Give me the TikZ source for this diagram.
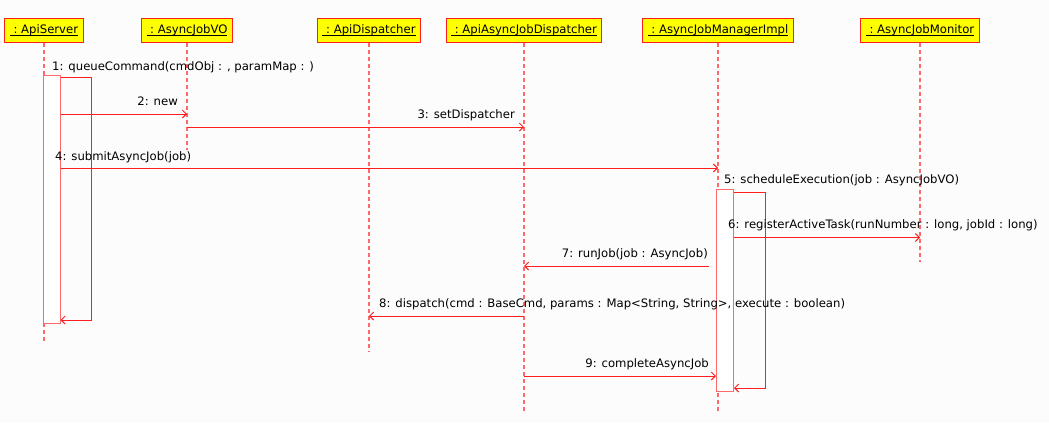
\documentclass[tikz,border=0pt]{standalone}
\usepackage{fontspec}
\setmainfont{DejaVu Sans}
\usepackage{xcolor}
\definecolor{msgred}{RGB}{255,30,30}
\definecolor{linered}{RGB}{255,105,105}
\definecolor{boxyellow}{RGB}{255,255,0}
\definecolor{bgwhite}{RGB}{252,252,252}
\usetikzlibrary{calc}
\usetikzlibrary{arrows.meta}
\newcommand{\msgfont}{\fontsize{11.7}{14}\selectfont}
\newcommand{\objname}[1]{\setbox0\hbox{\ :\ #1}\rlap{\rule[-2.4bp]{\wd0}{0.9bp}}\box0}
\tikzset{
    object/.style={draw=msgred, fill=boxyellow, rectangle, line width=1bp, minimum height=24bp, inner xsep=5bp},
    lifeline/.style={linered, line width=1.3bp, dash pattern=on 4bp off 3bp},
    activation/.style={draw=linered, fill=white, line width=1bp, anchor=north west, minimum width=17bp, inner sep=0pt},
    call/.style={msgred, line width=0.9bp, -{Straight Barb[length=4bp, width=8bp]}},
    label-l/.style={inner sep=0pt, anchor=base west},
    label-r/.style={inner sep=0pt, anchor=base east}
}

\begin{document}
\begin{tikzpicture}[x=1bp, y=-1bp, font=\msgfont]
      \fill[bgwhite] (0,0) rectangle (1049,423);
      \useasboundingbox (0,0) rectangle (1049,423);

      \path
          (44,30) node[object] (srv) {\objname{ApiServer}}
          (187,30) node[object] (vo) {\objname{AsyncJobVO}}
          (369,30) node[object] (disp) {\objname{ApiDispatcher}}
          (524,30) node[object] (adisp) {\objname{ApiAsyncJobDispatcher}}
          (718,30) node[object] (mgr) {\objname{AsyncJobManagerImpl}}
          (920,30) node[object] (mon) {\objname{AsyncJobMonitor}};

      \path
          (srv |- 0,343) coordinate (srv-end)
          (vo |- 0,150) coordinate (vo-end)
          (disp |- 0,351) coordinate (disp-end)
          (adisp |- 0,411) coordinate (adisp-end)
          (mgr |- 0,412) coordinate (mgr-end)
          (mon |- 0,262) coordinate (mon-end);

      \draw[lifeline] (srv.south) -- (srv-end) (vo.south) -- (vo-end) (disp.south) -- (disp-end);
      \draw[lifeline] (adisp.south) -- (adisp-end) (mgr.south) -- (mgr-end) (mon.south) -- (mon-end);

      \node[activation, minimum height=248bp] (srv-act) at (42.5,75) {};
      \node[activation, minimum height=202bp] (mgr-act) at (716,189) {};

      \coordinate (srv-loop) at (91,320);
      \coordinate (mgr-loop) at (765,388);

      \draw[call] (srv-act.east |- 0,77.5) -| (srv-loop) -- (srv-act.east |- srv-loop);
      \node[label-l] (m1) at (52,70) {1: queueCommand(cmdObj : , paramMap : )};

      \draw[call] (srv-act.east |- 0,114) -- (vo |- 0,114);
      \node[label-r] (m2) at (178,105.5) {2: new};

      \draw[call] (vo |- 0,127) -- (adisp |- 0,127);
      \node[label-r] (m3) at (515,118.5) {3: setDispatcher};

      \draw[call] (srv-act.east |- 0,168) -- (mgr |- 0,168);
      \node[label-l] (m4) at (55,160) {4: submitAsyncJob(job)};

      \draw[call] (mgr-act.east |- 0,192) -| (mgr-loop) -- (mgr-act.east |- mgr-loop);
      \node[label-l] (m5) at (724,183.5) {5: scheduleExecution(job : AsyncJobVO)};

      \draw[call] (mgr-act.east |- 0,237.5) -- (mon |- 0,237.5);
      \node[label-l] (m6) at (728,228.5) {6: registerActiveTask(runNumber : long, jobId : long)};

      \draw[call] ([xshift=-7bp]mgr-act.west |- 0,266) -- (adisp |- 0,266);
      \node[label-r] (m7) at (708,257.5) {7: runJob(job : AsyncJob)};

      \draw[call] (adisp |- 0,316) -- (disp |- 0,316);
      \node[label-l] (m8) at (379,307.5) {8: dispatch(cmd : BaseCmd, params : Map<String, String>, execute : boolean)};

      \draw[call] (adisp |- 0,376) -- (mgr-act.west |- 0,376);
      \node[label-r] (m9) at (709,367.5) {9: completeAsyncJob};
\end{tikzpicture}
\end{document}
